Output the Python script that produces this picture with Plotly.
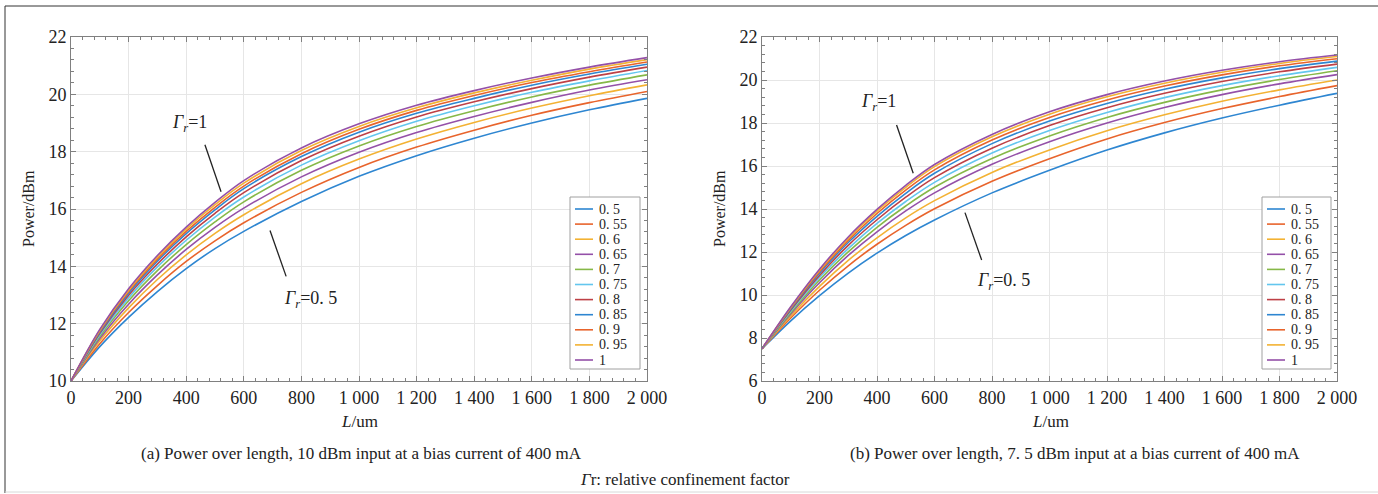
import plotly.graph_objects as go

# ---------------- data ----------------
L_um = [0, 100, 200, 300, 400, 500, 600, 800, 1000, 1200, 1400, 1600, 1800, 2000]
gamma_labels = ["0. 5", "0. 55", "0. 6", "0. 65", "0. 7", "0. 75", "0. 8", "0. 85", "0. 9", "0. 95", "1"]

# (a) 10 dBm input
p10_050 = [10, 11.20, 12.22, 13.12, 13.92, 14.62, 15.22, 16.26, 17.14, 17.86, 18.47, 19.00, 19.46, 19.86]
p10_055 = [10, 11.30, 12.39, 13.33, 14.17, 14.89, 15.52, 16.58, 17.45, 18.16, 18.75, 19.27, 19.71, 20.10]
p10_060 = [10, 11.40, 12.55, 13.54, 14.40, 15.15, 15.80, 16.88, 17.74, 18.44, 19.02, 19.52, 19.95, 20.33]
p10_065 = [10, 11.48, 12.68, 13.70, 14.59, 15.36, 16.03, 17.12, 17.98, 18.67, 19.23, 19.72, 20.15, 20.51]
p10_070 = [10, 11.55, 12.80, 13.85, 14.76, 15.55, 16.25, 17.35, 18.20, 18.88, 19.43, 19.91, 20.32, 20.68]
p10_075 = [10, 11.61, 12.90, 13.98, 14.91, 15.72, 16.42, 17.53, 18.38, 19.06, 19.60, 20.07, 20.47, 20.83]
p10_080 = [10, 11.66, 12.99, 14.08, 15.03, 15.85, 16.57, 17.69, 18.54, 19.21, 19.74, 20.20, 20.60, 20.95]
p10_085 = [10, 11.70, 13.06, 14.18, 15.14, 15.97, 16.71, 17.83, 18.68, 19.34, 19.86, 20.32, 20.71, 21.05]
p10_090 = [10, 11.74, 13.12, 14.25, 15.22, 16.06, 16.80, 17.93, 18.78, 19.44, 19.96, 20.41, 20.79, 21.13]
p10_095 = [10, 11.77, 13.17, 14.32, 15.30, 16.15, 16.90, 18.04, 18.88, 19.53, 20.05, 20.49, 20.88, 21.21]
p10_100 = [10, 11.80, 13.22, 14.38, 15.37, 16.23, 16.99, 18.13, 18.97, 19.62, 20.13, 20.57, 20.95, 21.28]

# (b) 7.5 dBm input
p75_050 = [7.5, 8.80, 9.97, 11.02, 11.95, 12.77, 13.49, 14.75, 15.80, 16.74, 17.54, 18.23, 18.83, 19.38]
p75_055 = [7.5, 8.93, 10.22, 11.36, 12.36, 13.24, 14.01, 15.29, 16.34, 17.26, 18.02, 18.67, 19.23, 19.74]
p75_060 = [7.5, 9.03, 10.40, 11.61, 12.66, 13.59, 14.39, 15.70, 16.75, 17.64, 18.38, 19.01, 19.54, 20.00]
p75_065 = [7.5, 9.12, 10.57, 11.84, 12.94, 13.91, 14.75, 16.08, 17.13, 18.00, 18.72, 19.32, 19.82, 20.25]
p75_070 = [7.5, 9.18, 10.70, 12.01, 13.15, 14.14, 15.01, 16.35, 17.40, 18.26, 18.96, 19.54, 20.02, 20.43]
p75_075 = [7.5, 9.24, 10.81, 12.16, 13.33, 14.35, 15.24, 16.60, 17.65, 18.49, 19.18, 19.74, 20.20, 20.59]
p75_080 = [7.5, 9.30, 10.91, 12.31, 13.50, 14.55, 15.46, 16.83, 17.88, 18.71, 19.38, 19.93, 20.38, 20.74]
p75_085 = [7.5, 9.35, 11.01, 12.44, 13.66, 14.73, 15.66, 17.04, 18.09, 18.91, 19.57, 20.10, 20.53, 20.88]
p75_090 = [7.5, 9.39, 11.08, 12.54, 13.79, 14.88, 15.82, 17.21, 18.26, 19.07, 19.72, 20.24, 20.66, 20.99]
p75_095 = [7.5, 9.42, 11.15, 12.63, 13.90, 15.01, 15.97, 17.36, 18.41, 19.22, 19.85, 20.36, 20.77, 21.09]
p75_100 = [7.5, 9.45, 11.20, 12.70, 13.98, 15.10, 16.07, 17.47, 18.52, 19.32, 19.95, 20.45, 20.85, 21.16]

x_tickvals = [0, 200, 400, 600, 800, 1000, 1200, 1400, 1600, 1800, 2000]
x_ticktext = ["0", "200", "400", "600", "800", "1 000", "1 200", "1 400", "1 600", "1 800", "2 000"]

series_a = [p10_050, p10_055, p10_060, p10_065, p10_070, p10_075, p10_080, p10_085, p10_090, p10_095, p10_100]
series_b = [p75_050, p75_055, p75_060, p75_065, p75_070, p75_075, p75_080, p75_085, p75_090, p75_095, p75_100]

# ---------------- style ----------------
colors = ["#2E86D1", "#E8642C", "#F3B233", "#9450A8", "#86B848", "#63C6EE",
          "#BE4046", "#2E86D1", "#E8642C", "#F3B233", "#9450A8"]
FONT = "Liberation Serif"
TXT = "#222222"
W, H = 1378, 494


def px_x(p):
    return p / W


def px_y(p):
    return 1 - p / H


fig = go.Figure()
for i, name in enumerate(gamma_labels):
    fig.add_trace(go.Scatter(x=L_um, y=series_a[i], mode="lines", name=name, showlegend=False,
                             line=dict(color=colors[i], width=1.6, shape="spline"),
                             xaxis="x", yaxis="y"))
for i, name in enumerate(gamma_labels):
    fig.add_trace(go.Scatter(x=L_um, y=series_b[i], mode="lines", name=name, showlegend=False,
                             line=dict(color=colors[i], width=1.6, shape="spline"),
                             xaxis="x2", yaxis="y2"))

axis_common = dict(showline=True, linecolor="#808080", linewidth=1, mirror="ticks",
                   ticks="inside", ticklen=5, tickcolor="#808080", automargin=False,
                   showgrid=True, gridcolor="#e6e6e6", gridwidth=1, zeroline=False,
                   tickfont=dict(family=FONT, size=18, color=TXT))

xa = dict(axis_common, range=[0, 2000], tickvals=x_tickvals, ticktext=x_ticktext,
          minor=dict(dtick=40, tick0=0, ticks="inside", ticklen=3, tickcolor="#808080", showgrid=False))
ya_common = dict(axis_common,
                 minor=dict(dtick=0.4, tick0=0, ticks="inside", ticklen=3, tickcolor="#808080", showgrid=False))

dom_y = [px_y(381), px_y(37)]
fig.update_layout(
    width=W, height=H,
    autosize=False,
    margin=dict(l=0, r=0, t=0, b=0, pad=0, autoexpand=False),
    paper_bgcolor="white", plot_bgcolor="white",
    font=dict(family=FONT, color=TXT),
    xaxis=dict(xa, domain=[px_x(71), px_x(647)], anchor="y"),
    yaxis=dict(ya_common, domain=dom_y, range=[10, 22], dtick=2, anchor="x"),
    xaxis2=dict(xa, domain=[px_x(762), px_x(1337)], anchor="y2"),
    yaxis2=dict(ya_common, domain=dom_y, range=[6, 22], dtick=2, anchor="x2"),
    showlegend=False,
)

ann = []
shapes = []


def text_paper(x, y, t, size, xanchor="center", angle=0):
    ann.append(dict(x=px_x(x), y=px_y(y), xref="paper", yref="paper", text=t, showarrow=False,
                    xanchor=xanchor, yanchor="middle", textangle=angle,
                    font=dict(family=FONT, size=size, color=TXT)))


# axis titles and captions
text_paper(28, 209, "Power/dBm", 16, angle=-90)
text_paper(719, 209, "Power/dBm", 16, angle=-90)
text_paper(359, 421, "<i>L</i>/um", 17)
text_paper(1050, 421, "<i>L</i>/um", 17)
text_paper(361, 453, "(a) Power over length, 10 dBm input at a bias current of 400 mA", 17)
text_paper(1075, 453, "(b) Power over length, 7. 5 dBm input at a bias current of 400 mA", 17)
text_paper(685, 479, "<i>Γ</i>r: relative confinement factor", 17)

# curve labels with pointer lines
g1 = "<i>Γ</i><sub><i>r</i></sub>=1"
g05 = "<i>Γ</i><sub><i>r</i></sub>=0. 5"
for xr, yr, xx, yy, t in [("x", "y", 413, 19.0, g1), ("x", "y", 830, 12.85, g05),
                          ("x2", "y2", 405, 18.95, g1), ("x2", "y2", 840, 10.65, g05)]:
    ann.append(dict(x=xx, y=yy, xref=xr, yref=yr, text=t, showarrow=False,
                    font=dict(family=FONT, size=18, color=TXT)))
for xr, yr, x0, y0, x1, y1 in [("x", "y", 465, 18.24, 521, 16.6), ("x", "y", 691, 15.25, 747, 13.65),
                               ("x2", "y2", 468, 17.91, 526, 15.66), ("x2", "y2", 706, 13.83, 764, 11.63)]:
    shapes.append(dict(type="line", xref=xr, yref=yr, x0=x0, y0=y0, x1=x1, y1=y1,
                       line=dict(color=TXT, width=1.3)))

# legends (one per panel)
for bx0, bx1 in [(570, 640), (1262, 1331)]:
    shapes.append(dict(type="rect", xref="paper", yref="paper",
                       x0=px_x(bx0), x1=px_x(bx1), y0=px_y(369), y1=px_y(197),
                       fillcolor="white", line=dict(color="#a0a0a0", width=1)))
    for i, name in enumerate(gamma_labels):
        yc = 209 + 15.1 * i
        shapes.append(dict(type="line", xref="paper", yref="paper",
                           x0=px_x(bx0 + 5), x1=px_x(bx0 + 23), y0=px_y(yc), y1=px_y(yc),
                           line=dict(color=colors[i], width=1.6)))
        text_paper(bx0 + 27, yc, name, 14, xanchor="left")

# outer frame
shapes.append(dict(type="line", xref="paper", yref="paper", x0=px_x(5), y0=px_y(6), x1=1, y1=px_y(6),
                   line=dict(color="#333", width=1)))
shapes.append(dict(type="line", xref="paper", yref="paper", x0=px_x(5), y0=px_y(6), x1=px_x(5), y1=px_y(493),
                   line=dict(color="#333", width=1)))
shapes.append(dict(type="line", xref="paper", yref="paper", x0=px_x(5), y0=px_y(492), x1=1, y1=px_y(492),
                   line=dict(color="#d8d8d8", width=1)))

fig.update_layout(annotations=ann, shapes=shapes)
fig.write_html("out.html", config={"displayModeBar": False, "responsive": False},
               post_script="document.body.style.margin='0px';document.body.style.padding='0px';"
                           "document.documentElement.style.overflow='hidden';")
